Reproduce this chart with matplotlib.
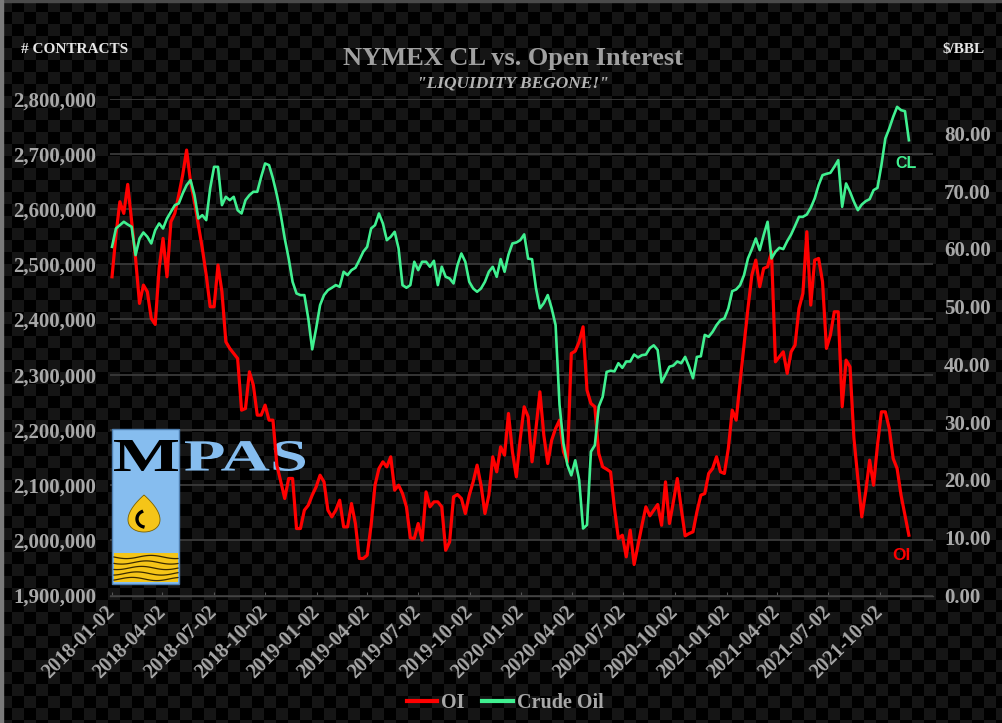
import numpy as np
import pandas as pd
import matplotlib
matplotlib.use("Agg")
import matplotlib.pyplot as plt
from matplotlib.colors import ListedColormap
from matplotlib.patches import Rectangle, PathPatch, Polygon
from matplotlib.textpath import TextPath
from matplotlib.font_manager import FontProperties
from matplotlib.transforms import Affine2D
from matplotlib.lines import Line2D
from matplotlib.ticker import FuncFormatter

# ---------------- data (weekly) ----------------
start_date = "2018-01-02"

open_interest = [
    2477300, 2552800, 2613200, 2592100, 2644600, 2577000, 2510500, 2429000, 2462200, 2450100,
    2401800, 2391000, 2492400, 2546800, 2477300, 2577000, 2592100, 2625300, 2661500, 2706800,
    2649500, 2613200, 2570900, 2528700, 2480300, 2423000, 2423000, 2498500, 2450100, 2359500,
    2347500, 2338400, 2329300, 2235700, 2238700, 2305200, 2281000, 2226700, 2226700, 2244800,
    2217600, 2217600, 2136100, 2105900, 2075700, 2112000, 2112000, 2021300, 2021300, 2054500,
    2063600, 2081700,
    2096800, 2117900, 2105900, 2054500, 2042400, 2054500, 2072600, 2024300,
    2024300, 2066600, 2030400, 1967000, 1967000, 1973000, 2027300, 2099800, 2130000, 2142100,
    2133000, 2151200, 2090800, 2099800, 2084700, 2060600, 2004400, 2003200, 2030400, 2000200,
    2087700, 2060600, 2069600, 2069600, 2060600, 1982000, 1997100, 2078700, 2082900, 2075700,
    2048500, 2081700, 2105900, 2136100, 2099800, 2048500, 2081700, 2151200, 2124000, 2169300,
    2154200, 2229700,
    2160200, 2114900, 2184400, 2241800, 2223600, 2142100, 2202500, 2268900,
    2190400, 2139100, 2181400, 2202500, 2217600, 2160200, 2142100, 2338400, 2342600, 2359500,
    2386700, 2272000, 2247800, 2241800, 2157200, 2133000, 2128800, 2124000, 2057500, 2003200,
    2009200, 1970000, 2018300, 1956100, 1991100, 2027300, 2060600, 2044300, 2054500, 2064800,
    2027300, 2105900, 2030400, 2069600, 2111900, 2057500, 2008000, 2012200, 2015300, 2051500,
    2081700, 2084700,
    2121000, 2130000, 2151200, 2124000, 2121000, 2166300, 2235700, 2217600,
    2287100, 2353500, 2420000, 2480300, 2507500, 2459200, 2492400, 2495500, 2522600, 2323300,
    2332400, 2341400, 2302200, 2341400, 2353500, 2420000, 2447100, 2558900, 2426000, 2507500,
    2510500, 2468300, 2347500, 2371600, 2413900, 2413900, 2241800, 2326300, 2314200, 2184400,
    2112000, 2042400, 2087700, 2145100, 2099800, 2172300, 2232700, 2232700, 2202500, 2148100,
    2130000, 2081700, 2045500, 2009200,
]

crude_oil = [
    60.35, 63.52, 64.10, 64.68, 64.21, 63.81, 58.91, 61.79, 62.83, 62.08,
    60.93, 63.23, 64.39, 63.52, 65.25, 66.41, 67.56, 67.85, 69.58, 71.02,
    71.88, 69.29, 65.25, 65.83, 64.96, 70.44, 74.19, 74.19, 67.56, 69.00,
    68.42, 69.00, 66.69, 66.12, 68.42, 69.29, 69.87, 69.87, 72.46, 74.77,
    74.48, 72.17, 69.29, 65.83, 61.79, 58.33, 54.29, 52.28, 51.99, 51.99,
    47.95, 42.60,
    46.22, 50.26, 51.99, 52.85, 53.26, 53.72, 53.43, 56.03,
    55.45, 56.31, 56.72, 58.04, 59.49, 60.35, 63.52, 64.10, 66.12, 64.39,
    61.50, 62.08, 62.95, 60.06, 53.72, 53.26, 53.72, 57.76, 56.31, 57.76,
    57.76, 56.89, 57.93, 53.72, 56.89, 55.16, 54.87, 54.01, 57.18, 59.20,
    57.76, 54.30, 53.14, 52.57, 53.14, 54.30, 56.03, 56.89, 55.16, 58.22,
    56.03, 59.00,
    60.93, 61.10, 61.50, 62.50, 58.30, 58.20, 53.20, 49.70,
    50.60, 52.00, 49.70, 46.80, 33.00, 26.30, 22.60, 20.80, 23.40, 20.00,
    11.60, 12.20, 24.90, 26.00, 32.70, 34.40, 38.70, 38.90, 38.80, 40.20,
    39.40, 40.50, 40.50, 41.70, 41.20, 41.60, 41.70, 42.80, 43.30, 42.50,
    36.90, 38.20, 39.60, 39.80, 40.50, 40.20, 41.30, 39.60, 37.60, 41.30,
    41.40, 45.10,
    44.78, 45.64, 46.80, 47.66, 47.95, 49.68, 52.68, 52.97, 53.72, 55.45,
    58.33, 59.95, 61.79, 59.77, 62.37, 64.68, 58.33, 59.49, 60.18, 59.95,
    61.33, 62.48, 63.98, 65.54, 65.54, 65.94, 67.10, 68.71, 71.02, 72.75,
    72.98, 73.15, 74.19, 75.34, 67.27, 71.31, 69.87, 68.14, 66.69, 67.67,
    68.25, 68.60, 70.15, 70.56, 74.48, 79.09, 80.82, 82.84, 84.57, 84.00,
    83.82, 78.80,
]

oi_ticks = [1900000, 2000000, 2100000, 2200000, 2300000, 2400000, 2500000, 2600000, 2700000, 2800000]
cl_ticks = [0, 10, 20, 30, 40, 50, 60, 70, 80]
x_tick_labels = ["2018-01-02", "2018-04-02", "2018-07-02", "2018-10-02",
                 "2019-01-02", "2019-04-02", "2019-07-02", "2019-10-02",
                 "2020-01-02", "2020-04-02", "2020-07-02", "2020-10-02",
                 "2021-01-02", "2021-04-02", "2021-07-02", "2021-10-02"]

title = "NYMEX CL vs. Open Interest"
subtitle = '"LIQUIDITY BEGONE!"'

dates = pd.date_range(start_date, periods=len(open_interest), freq="7D")
x_ticks = pd.to_datetime(x_tick_labels)

# ---------------- figure ----------------
W, H = 1002, 723
fig = plt.figure(figsize=(W / 100, H / 100), dpi=100)

SERIF = "Liberation Serif"
GRAY = "#A8A8A8"
RED = "#FF0000"
GREEN = "#40F090"

# checkered background
bg = fig.add_axes([0, 0, 1, 1], zorder=-10)
yy, xx = np.mgrid[0:H, 0:W]
checker = ((yy // 12) + (xx // 12)) % 2
bg.imshow(checker, cmap=ListedColormap(["#151515", "#000000"]), aspect="auto",
          interpolation="nearest", extent=[0, W, H, 0])
bg.set_xlim(0, W)
bg.set_ylim(H, 0)
bg.axis("off")
bg.add_patch(Rectangle((0, 0), W, 2, color="#4a4a4a"))
bg.add_patch(Rectangle((0, 0), 3, H, color="#7a7a7a"))

# main axes (pixel box: x 110..933, y 98.6..595.5)
ax = fig.add_axes([110 / W, 1 - 595.5 / H, 823 / W, 496.9 / H])
ax.patch.set_alpha(0)
ax.plot(dates, open_interest, color=RED, lw=2.3, zorder=3, solid_joinstyle="round")
ax.set_ylim(1900000, 2800000)
ax.set_yticks(oi_ticks)
ax.yaxis.set_major_formatter(FuncFormatter(lambda v, p: f"{int(v):,}"))
ax.set_xlim(pd.Timestamp(start_date) - pd.Timedelta(days=3.6),
            pd.Timestamp(start_date) + pd.Timedelta(days=1464))
ax.set_xticks(x_ticks)
ax.set_xticklabels(x_tick_labels)
ax.set_axisbelow(True)
ax.grid(axis="y", color="#3a3a3a", lw=1.3)
ax.grid(axis="x", visible=False)
for s in ["top", "left", "right"]:
    ax.spines[s].set_visible(False)
ax.spines["bottom"].set_color("#444444")
ax.spines["bottom"].set_linewidth(1.0)
ax.tick_params(axis="y", length=0, pad=10, labelsize=15, labelcolor=GRAY)
ax.tick_params(axis="x", length=3, direction="in", color="#555555", pad=10,
               labelsize=14.5, labelcolor=GRAY)
for lbl in ax.get_yticklabels():
    lbl.set_fontfamily(SERIF)
    lbl.set_fontweight("bold")
for lbl in ax.get_xticklabels():
    lbl.set_fontfamily(SERIF)
    lbl.set_fontweight("bold")
    lbl.set_rotation(45)
    lbl.set_ha("right")
    lbl.set_va("center")
    lbl.set_rotation_mode("anchor")

ax2 = ax.twinx()
ax2.patch.set_alpha(0)
ax2.plot(dates, crude_oil, color=GREEN, lw=1.9, zorder=3, solid_joinstyle="round")
ax2.set_ylim(0, 86)
ax2.set_yticks(cl_ticks)
ax2.yaxis.set_major_formatter(FuncFormatter(lambda v, p: f"{v:.2f}"))
for s in ax2.spines.values():
    s.set_visible(False)
ax2.tick_params(axis="y", length=0, pad=8, labelsize=15, labelcolor=GRAY)
for lbl in ax2.get_yticklabels():
    lbl.set_fontfamily(SERIF)
    lbl.set_fontweight("bold")


# ---------------- logo (MPAS) ----------------
def fig_tr(x0, y0, x1, y1, ext):
    """map path extents to pixel box (image coords, y down)"""
    sx = (x1 - x0) / ext.width
    sy = (y1 - y0) / ext.height
    return (Affine2D().translate(-ext.x0, -ext.y0).scale(sx / W, sy / H)
            .translate(x0 / W, 1 - y1 / H) + fig.transFigure)


def logo_text(s, box, color, z):
    fp = FontProperties(family=SERIF, weight="bold")
    tp = TextPath((0, 0), s, size=100, prop=fp)
    ext = tp.get_extents()
    ax.add_patch(PathPatch(tp, facecolor=color, edgecolor="none", lw=0,
                           transform=fig_tr(*box, ext), zorder=z, clip_on=False))


def px(x, y):
    return (x / W, 1 - y / H)


LOGO_BLUE = "#86BDEF"
YELLOW = "#F5C518"
ax.add_patch(Rectangle(px(112, 584), 67 / W, 155 / H, facecolor=LOGO_BLUE,
                       edgecolor="#4F7FB0", lw=1, transform=fig.transFigure,
                       zorder=1, clip_on=False))
logo_text("M", (114, 440, 178, 471), "#000000", 1.2)
logo_text("PAS", (185, 441, 305, 471), LOGO_BLUE, 1.2)

# oil drop
u = np.linspace(0, 2 * np.pi, 200)
dx = 16 / 0.77 * np.sin(u) * np.sin(u / 2)
dy = 495 + (1 - np.cos(u)) / 2 * 37
drop = [px(144 + a, b) for a, b in zip(dx, dy)]
ax.add_patch(Polygon(drop, closed=True, facecolor=YELLOW, edgecolor="#7a6000", lw=0.6,
                     transform=fig.transFigure, zorder=1.2, clip_on=False))
th = np.linspace(np.radians(115), np.radians(255), 40)
arc = [px(145 + 8 * np.cos(t), 519 - 8 * np.sin(t)) for t in th]
ax.add_line(Line2D([p[0] for p in arc], [p[1] for p in arc], color="black", lw=2.4,
                   transform=fig.transFigure, zorder=1.3, clip_on=False))

# waves
ax.add_patch(Rectangle(px(114, 582), 64 / W, 29 / H, facecolor=YELLOW, edgecolor="none",
                       transform=fig.transFigure, zorder=1.2, clip_on=False))
wx = np.linspace(114, 178, 80)
for i, base in enumerate([557, 562.5, 568, 573.5, 579]):
    wy = base + 1.6 * np.sin((wx - 114) / 64 * 2 * np.pi * 1.3 + i * 0.6)
    pts = [px(a, b) for a, b in zip(wx, wy)]
    ax.add_line(Line2D([p[0] for p in pts], [p[1] for p in pts], color="#3a2a00", lw=0.9,
                       transform=fig.transFigure, zorder=1.3, clip_on=False))

# ---------------- texts ----------------
fig.text(513 / W, 1 - 65 / H, title, ha="center", va="baseline", fontsize=19,
         fontfamily=SERIF, fontweight="bold", color="#A0A0A0")
fig.text(513 / W, 1 - 87 / H, subtitle, ha="center", va="baseline", fontsize=12.5,
         fontfamily=SERIF, fontweight="bold", fontstyle="italic", color="#B4B4B4")
fig.text(21 / W, 1 - 53 / H, "# CONTRACTS", ha="left", va="baseline", fontsize=11,
         fontfamily=SERIF, fontweight="bold", color="#E6E6E6")
fig.text(985 / W, 1 - 53 / H, "$/BBL", ha="right", va="baseline", fontsize=11,
         fontfamily=SERIF, fontweight="bold", color="#E6E6E6")
fig.text(906 / W, 1 - 163 / H, "CL", ha="center", va="center", fontsize=11.5,
         fontfamily="Liberation Sans", fontweight="bold", color=GREEN)
fig.text(901 / W, 1 - 556 / H, "OI", ha="center", va="center", fontsize=12.5,
         fontfamily="Liberation Sans", fontweight="bold", color=RED)

handles = [Line2D([], [], color=RED, lw=3), Line2D([], [], color=GREEN, lw=3)]
leg = fig.legend(handles, ["OI", "Crude Oil"], loc="center", bbox_to_anchor=(505 / W, 1 - 703 / H),
                 ncol=2, frameon=False, handlelength=1.5, handletextpad=0.2, columnspacing=0.9,
                 prop=FontProperties(family=SERIF, weight="bold", size=14.5))
for t in leg.get_texts():
    t.set_color(GRAY)

fig.savefig("out.png", dpi=100, facecolor="black")
